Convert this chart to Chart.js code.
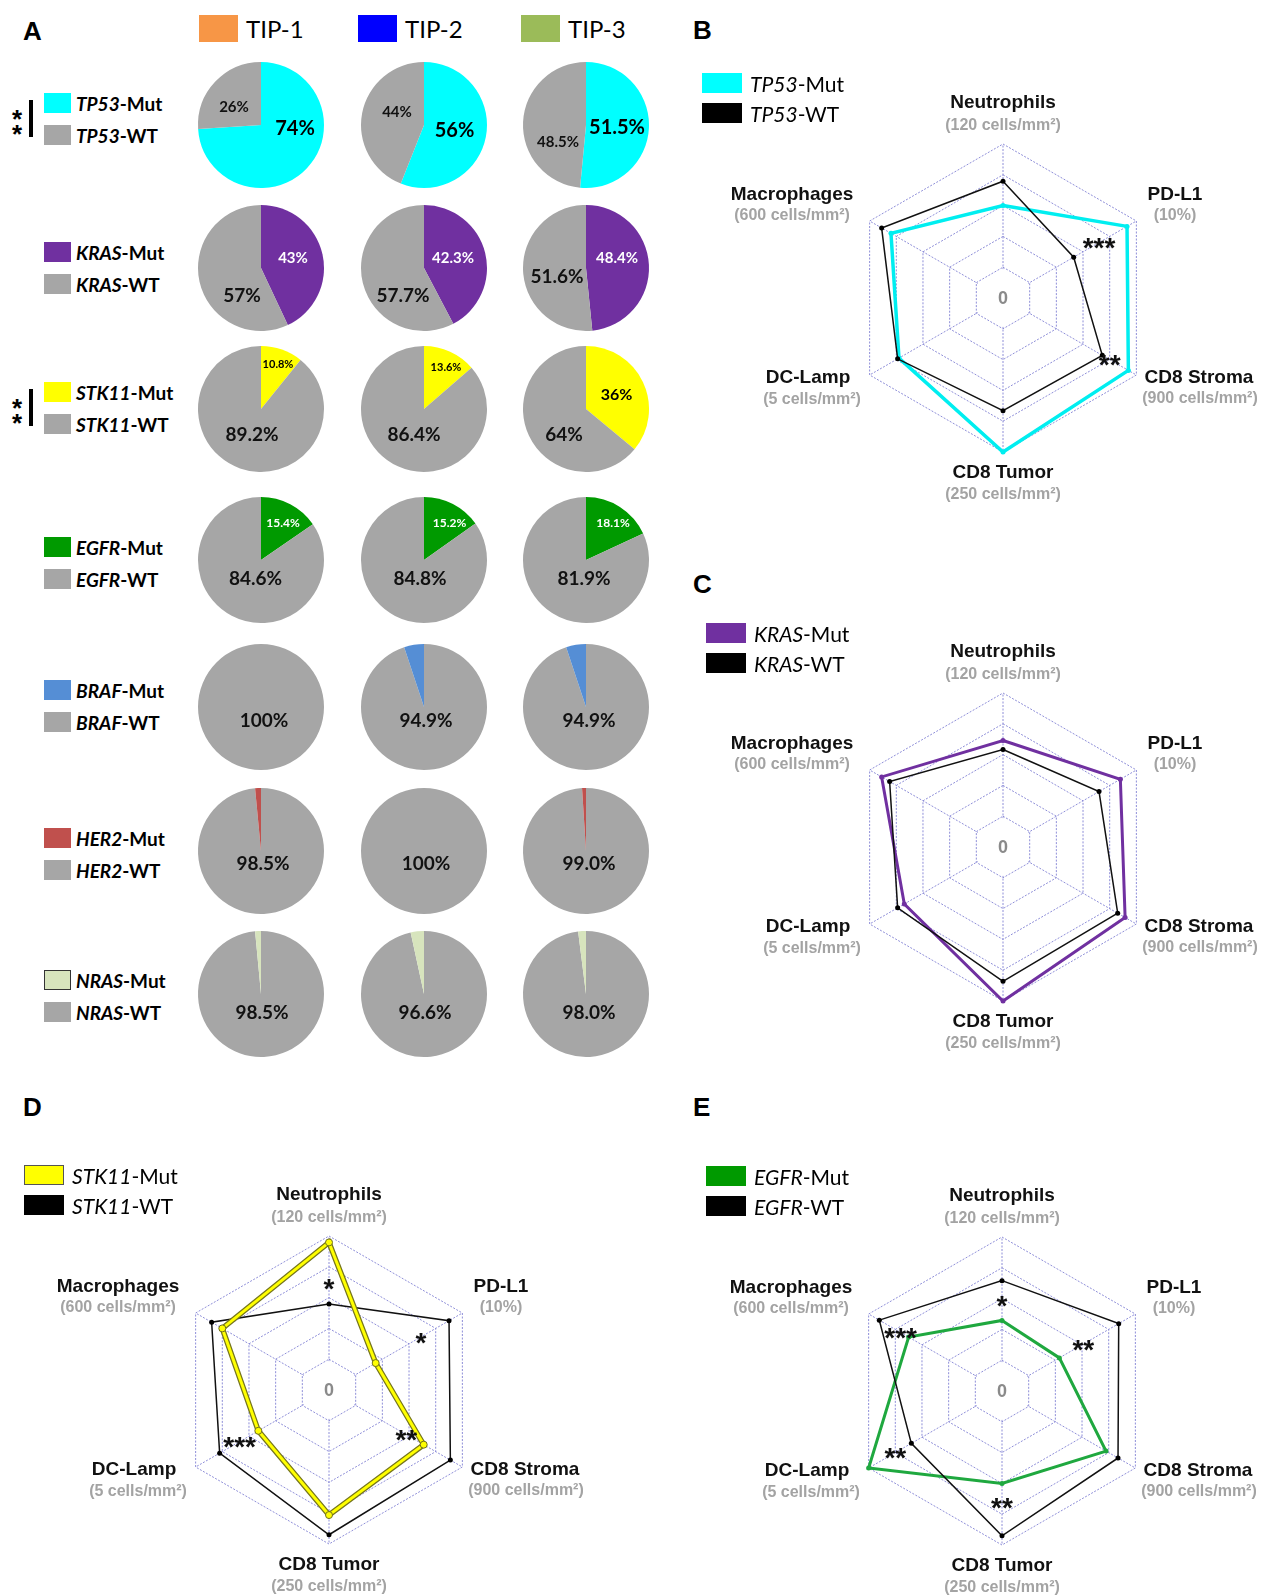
<!DOCTYPE html>
<html>
<head>
<meta charset="utf-8">
<script src="https://cdn.jsdelivr.net/npm/chart.js@4.4.1/dist/chart.umd.min.js"></script>
<style>
  body { margin: 0; background: #fff; }
  #fig { position: relative; width: 1264px; height: 1595px; overflow: hidden; font-family: Lato, "Liberation Sans", sans-serif; color: #000; }
  .abs { position: absolute; }
  .panel { font: bold 26px "Liberation Sans", Arial, sans-serif; line-height: 1; }
  .sw { position: absolute; }
  .lg { position: absolute; white-space: nowrap; line-height: 1; transform: translateY(-50%); }
  .lg i { font-style: italic; }
  canvas { position: absolute; }
</style>
</head>
<body>
<div id="fig"></div>
<script>
// ---------- data ----------
const tipNames = ['TIP-1', 'TIP-2', 'TIP-3'];
const tipColors = ['#f79646', '#0000ff', '#9bbb59'];

const genes = ['TP53', 'KRAS', 'STK11', 'EGFR', 'BRAF', 'HER2', 'NRAS'];
// % mutated per TIP class (TIP-1, TIP-2, TIP-3)
const tp53Mut = [74, 56, 51.5];
const krasMut = [43, 42.3, 48.4];
const stk11Mut = [10.8, 13.6, 36];
const egfrMut = [15.4, 15.2, 18.1];
const brafMut = [0, 5.1, 5.1];
const her2Mut = [1.5, 0, 1.0];
const nrasMut = [1.5, 3.4, 2.0];
const pctDigits = [[0, 0, 1], [0, 1, 1], [1, 1, 0], [1, 1, 1], [0, 1, 1], [1, 0, 1], [1, 1, 1]];

const axes = ['Neutrophils', 'PD-L1', 'CD8 Stroma', 'CD8 Tumor', 'DC-Lamp', 'Macrophages'];
const axisUnits = ['(120 cells/mm²)', '(10%)', '(900 cells/mm²)', '(250 cells/mm²)', '(5 cells/mm²)', '(600 cells/mm²)'];
const axisMax = [120, 10, 900, 250, 5, 600];

// radar values in axis units
const tp53MutVals = [72, 9.3, 846, 250, 3.9, 504];
const tp53WtVals = [91, 5.3, 670, 183, 3.95, 546];
const krasMutVals = [83, 8.8, 824, 250, 3.7, 546];
const krasWtVals = [76, 7.2, 774, 218, 3.95, 510];
const stk11MutVals = [115, 3.5, 639, 203, 2.65, 480];
const stk11WtVals = [67, 9.0, 819, 235, 4.1, 528];
const egfrMutVals = [55, 4.3, 702, 150, 5.0, 420];
const egfrWtVals = [86, 8.75, 783, 235, 3.4, 552];

// significance marks: [axis index, radial position (0-1), text]
const tp53Stars = [[1, 0.72, '***'], [2, 0.80, '**']];
const krasStars = [];
const stk11Stars = [[0, 0.69, '*'], [1, 0.69, '*'], [2, 0.58, '**'], [4, 0.67, '***']];
const egfrStars = [[0, 0.59, '*'], [1, 0.61, '**'], [3, 0.72, '**'], [4, 0.80, '**'], [5, 0.76, '***']];

// ---------- layout / style ----------
const fig = document.getElementById('fig');
const GRAY = '#a6a6a6';
const GRID = '#8e8ed8';
const mutColors = ['#00ffff', '#7030a0', '#ffff00', '#009a00', '#558ed5', '#c0504d', '#d7e4bd'];
const mutByGene = [tp53Mut, krasMut, stk11Mut, egfrMut, brafMut, her2Mut, nrasMut];
const wtFirst = [false, false, false, false, true, true, true];
const pieX = [261, 424, 586];
const pieY = [124.5, 267.5, 409, 559.5, 707, 851, 994];
const legendY = [103, 252, 392, 547, 690, 838, 980];
const sigRows = [0, 2];

// label offsets from pie centre (px), font sizes, colours
const pieText = [
  { mut: [[34, 4], [30.5, 5.5], [31, 3]], mutSize: [20, 20, 20], mutColor: '#000', wt: [[-27, -18], [-27, -13], [-28, 17]], wtSize: [15, 15, 15] },
  { mut: [[32, -10], [29, -10], [31, -10]], mutSize: [15, 15, 15], mutColor: '#fff', wt: [[-19, 27.5], [-21, 27.5], [-29, 8.5]], wtSize: [19, 19, 19] },
  { mut: [[17, -45], [22, -42], [30.5, -14]], mutSize: [11, 11, 16], mutColor: '#000', wt: [[-9, 26], [-10, 26], [-22, 26]], wtSize: [19, 19, 19] },
  { mut: [[22, -37], [25.5, -37], [27, -37]], mutSize: [12, 12, 12], mutColor: '#fff', wt: [[-5.5, 19], [-4, 19], [-2, 19]], wtSize: [19, 19, 19] },
  { mut: null, wt: [[3, 14], [2, 14], [3, 14]], wtSize: [19, 19, 19] },
  { mut: null, wt: [[2, 13], [2, 13], [3, 13]], wtSize: [19, 19, 19] },
  { mut: null, wt: [[1, 19], [1, 19], [3, 19]], wtSize: [19, 19, 19] }
];

function el(tag, cls, css, html) {
  const e = document.createElement(tag);
  if (cls) e.className = cls;
  Object.assign(e.style, css);
  if (html !== undefined) e.innerHTML = html;
  fig.appendChild(e);
  return e;
}
function canvasAt(left, top, w, h) {
  const c = document.createElement('canvas');
  c.width = w; c.height = h;
  c.style.left = left + 'px'; c.style.top = top + 'px';
  c.style.width = w + 'px'; c.style.height = h + 'px';
  fig.appendChild(c);
  return c;
}

// panel letters
[['A', 23, 18], ['B', 693, 17], ['C', 693, 571], ['D', 23, 1094], ['E', 693, 1094]].forEach(([t, x, y]) => {
  el('div', 'panel abs', { left: x + 'px', top: y + 'px' }, t);
});

// TIP legend
const tipSwX = [199, 358, 521];
tipNames.forEach((t, i) => {
  el('div', 'sw', { left: tipSwX[i] + 'px', top: '15px', width: '39px', height: '27px', background: tipColors[i] });
  el('div', 'lg', { left: (tipSwX[i] + 47) + 'px', top: '29px', fontSize: '24px' }, t);
});

// gene legends
genes.forEach((g, r) => {
  const y = legendY[r];
  const border = r === 6 ? '1.5px solid #333' : 'none';
  el('div', 'sw', { left: '44px', top: (y - 10) + 'px', width: '27px', height: '20px', background: mutColors[r], border: border, boxSizing: 'border-box' });
  el('div', 'lg', { left: '76px', top: y + 'px', fontSize: '19px', fontWeight: 'bold' }, '<i>' + g + '</i>-Mut');
  el('div', 'sw', { left: '44px', top: (y + 22) + 'px', width: '27px', height: '20px', background: GRAY });
  el('div', 'lg', { left: '76px', top: (y + 32) + 'px', fontSize: '19px', fontWeight: 'bold' }, '<i>' + g + '</i>-WT');
});
sigRows.forEach(r => {
  const y = legendY[r];
  el('div', 'lg', { left: '12px', top: (y + 16) + 'px', font: 'bold 26px "Liberation Sans"' }, '*');
  el('div', 'lg', { left: '12px', top: (y + 31) + 'px', font: 'bold 26px "Liberation Sans"' }, '*');
  el('div', 'sw', { left: '29px', top: (y - 3) + 'px', width: '3.5px', height: '37px', background: '#000' });
});

// ---------- pies ----------
const pieLabels = {
  id: 'pieLabels',
  afterDraw(chart, args, o) {
    const arc = chart.getDatasetMeta(0).data[0];
    const ctx = chart.ctx;
    ctx.save();
    ctx.textAlign = 'center';
    ctx.textBaseline = 'middle';
    o.items.forEach(it => {
      ctx.font = 'bold ' + it.size + 'px Lato, "Liberation Sans", sans-serif';
      ctx.fillStyle = it.color;
      ctx.fillText(it.text, arc.x + it.dx, arc.y + it.dy);
    });
    ctx.restore();
  }
};

genes.forEach((g, r) => {
  mutByGene[r].forEach((m, t) => {
    const wt = 100 - m;
    const d = pctDigits[r][t];
    const data = wtFirst[r] ? [wt, m] : [m, wt];
    const colors = wtFirst[r] ? [GRAY, mutColors[r]] : [mutColors[r], GRAY];
    const lay = pieText[r];
    const items = [{ text: wt.toFixed(d) + '%', dx: lay.wt[t][0], dy: lay.wt[t][1], size: lay.wtSize[t], color: '#111' }];
    if (lay.mut) items.push({ text: m.toFixed(d) + '%', dx: lay.mut[t][0], dy: lay.mut[t][1], size: lay.mutSize[t], color: lay.mutColor });
    const c = canvasAt(pieX[t] - 68, pieY[r] - 68, 136, 136);
    new Chart(c, {
      type: 'pie',
      data: { labels: ['a', 'b'], datasets: [{ data: data, backgroundColor: colors, borderWidth: 0 }] },
      options: {
        responsive: false, animation: false,
        layout: { padding: 5 },
        plugins: { legend: { display: false }, tooltip: { enabled: false }, pieLabels: { items: items } }
      },
      plugins: [pieLabels]
    });
  });
});

// ---------- radars ----------
const nameShift = [[0, -41], [38.6, -26], [62.6, 3], [0, 21], [-61.6, 3], [-77.6, -26]];
const unitShift = [[0, -18], [38.6, -5], [63.6, 24], [0, 43], [-57.6, 25], [-77.6, -5]];

const radarDecor = {
  id: 'radarDecor',
  beforeDatasetsDraw(chart) {
    // keep the innermost ring clear of spokes, as in the original figure
    const s = chart.scales.r;
    const ctx = chart.ctx;
    ctx.save();
    ctx.beginPath();
    axes.forEach((a, i) => {
      const p = s.getPointPositionForValue(i, 0.19);
      if (i === 0) ctx.moveTo(p.x, p.y); else ctx.lineTo(p.x, p.y);
    });
    ctx.closePath();
    ctx.fillStyle = '#fff';
    ctx.fill();
    ctx.fillStyle = '#8a8a8a';
    ctx.textAlign = 'center';
    ctx.textBaseline = 'middle';
    ctx.font = 'bold 18px "Liberation Sans", Arial, sans-serif';
    ctx.fillText('0', s.xCenter, s.yCenter + 1);
    ctx.restore();
  },
  afterDraw(chart, args, o) {
    const s = chart.scales.r;
    const ctx = chart.ctx;
    ctx.save();
    ctx.textAlign = 'center';
    ctx.textBaseline = 'middle';
    axes.forEach((name, i) => {
      const p = s.getPointPositionForValue(i, s.max);
      ctx.fillStyle = '#111';
      ctx.font = 'bold 19px "Liberation Sans", Arial, sans-serif';
      ctx.fillText(name, p.x + nameShift[i][0], p.y + nameShift[i][1]);
      ctx.fillStyle = '#a3a3a3';
      ctx.font = 'bold 16px "Liberation Sans", Arial, sans-serif';
      ctx.fillText(axisUnits[i], p.x + unitShift[i][0], p.y + unitShift[i][1]);
    });
    ctx.fillStyle = '#111';
    ctx.font = 'bold 28px "Liberation Sans", Arial, sans-serif';
    o.stars.forEach(([i, v, t]) => {
      const p = s.getPointPositionForValue(i, v);
      ctx.fillText(t, p.x, p.y + 7);
    });
    ctx.restore();
  }
};

const radarPanels = [
  { cx: 1003, cy: 298, gene: 'TP53', mut: tp53MutVals, wt: tp53WtVals, color: '#00eef0', swatch: '#00ffff', width: 3.5, stars: tp53Stars, lx: 702, ly: 73 },
  { cx: 1003, cy: 847, gene: 'KRAS', mut: krasMutVals, wt: krasWtVals, color: '#7030a0', swatch: '#7030a0', width: 3, stars: krasStars, lx: 706, ly: 623 },
  { cx: 329, cy: 1390, gene: 'STK11', mut: stk11MutVals, wt: stk11WtVals, color: '#ffff00', swatch: '#ffff00', width: 3, stars: stk11Stars, lx: 24, ly: 1165, outline: true },
  { cx: 1002, cy: 1391, gene: 'EGFR', mut: egfrMutVals, wt: egfrWtVals, color: '#1fa83f', swatch: '#009a00', width: 3, stars: egfrStars, lx: 706, ly: 1166 }
];

radarPanels.forEach(P => {
  const norm = vals => vals.map((v, i) => v / axisMax[i]);
  const datasets = [
    { data: norm(P.wt), borderColor: '#111', borderWidth: 1.5, pointRadius: 2.5, pointBackgroundColor: '#000', pointBorderWidth: 0, fill: false, order: P.outline ? 3 : 0 },
    { data: norm(P.mut), borderColor: P.color, borderWidth: P.width, pointRadius: P.outline ? 3.5 : 2.5, pointBackgroundColor: P.color,
      pointBorderColor: P.outline ? '#6f6f20' : P.color, pointBorderWidth: P.outline ? 1 : 0, fill: false, order: P.outline ? 0 : 2 }
  ];
  if (P.outline) {
    datasets.push({ data: norm(P.mut), borderColor: '#76761c', borderWidth: 5.5, pointRadius: 0, fill: false, order: 1 });
  }
  const c = canvasAt(P.cx - 280, P.cy - 235, 560, 470);
  new Chart(c, {
    type: 'radar',
    data: { labels: axes, datasets: datasets },
    options: {
      responsive: false, animation: false,
      layout: { padding: { left: 126, right: 126, top: 81, bottom: 81 } },
      elements: { line: { tension: 0 } },
      plugins: { legend: { display: false }, tooltip: { enabled: false }, radarDecor: { stars: P.stars } },
      scales: {
        r: {
          min: 0, max: 1,
          ticks: { display: false, stepSize: 0.2 },
          pointLabels: { display: false },
          grid: { color: GRID, lineWidth: 1 },
          border: { dash: [2, 1.5] },
          angleLines: { color: GRID, lineWidth: 1, borderDash: [2, 1.5] }
        }
      }
    },
    plugins: [radarDecor]
  });

  // radar legend
  const mutBorder = P.outline ? '1.5px solid #555' : 'none';
  el('div', 'sw', { left: P.lx + 'px', top: P.ly + 'px', width: '40px', height: '20px', background: P.swatch, border: mutBorder, boxSizing: 'border-box' });
  el('div', 'lg', { left: (P.lx + 48) + 'px', top: (P.ly + 10) + 'px', fontSize: '21px' }, '<i>' + P.gene + '</i>-Mut');
  el('div', 'sw', { left: P.lx + 'px', top: (P.ly + 30) + 'px', width: '40px', height: '20px', background: '#000' });
  el('div', 'lg', { left: (P.lx + 48) + 'px', top: (P.ly + 40) + 'px', fontSize: '21px' }, '<i>' + P.gene + '</i>-WT');
});
</script>
</body>
</html>
